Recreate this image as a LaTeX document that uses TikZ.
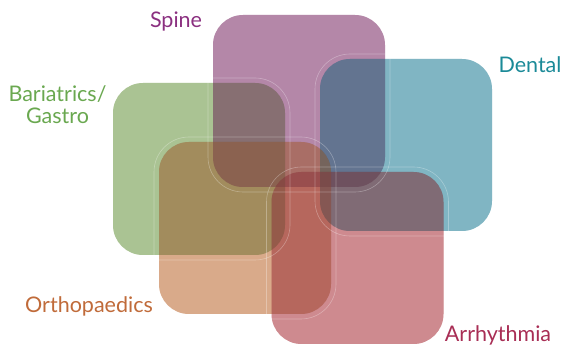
\documentclass[tikz,border=0pt]{standalone}
\usepackage{fontspec}
\setmainfont{Lato}
\definecolor{bariac}{RGB}{170,195,147}
\definecolor{spinec}{RGB}{180,135,168}
\definecolor{dentalc}{RGB}{128,181,195}
\definecolor{orthoc}{RGB}{217,170,138}
\definecolor{arrhyc}{RGB}{206,138,143}
\definecolor{bariat}{RGB}{106,168,80}
\definecolor{spinet}{RGB}{139,48,128}
\definecolor{dentalt}{RGB}{27,138,152}
\definecolor{orthot}{RGB}{192,107,58}
\definecolor{arrhyt}{RGB}{168,46,85}

\begin{document}
\begin{tikzpicture}[x=1pt,y=-1pt]
    \tikzstyle{square}=[rectangle,rounded corners=30pt,minimum size=172pt,
        inner sep=0pt,blend mode=multiply]
    \tikzstyle{tint}=[rectangle,rounded corners=30pt,minimum size=172pt,
        inner sep=0pt,fill opacity=0.25]
    \tikzstyle{halo}=[rectangle,rounded corners=35pt,minimum size=182pt,
        inner sep=0pt,draw=white,draw opacity=0.3,line width=0.6pt]
    \tikzstyle{areatext}=[font=\fontsize{21.5}{22}\selectfont,align=center,
        inner sep=0pt,anchor=base]
    \useasboundingbox (0,0) rectangle (566,347);
    % Squares
    \node[square,fill=bariac] (baria) at (199,169) {};
    \node[tint,fill=bariac] at (baria) {};
    \node[square,fill=spinec] (spine) at (299,101) {};
    \node[tint,fill=spinec] at (spine) {};
    \node[square,fill=dentalc] (dental) at (406,145) {};
    \node[tint,fill=dentalc] at (dental) {};
    \node[square,fill=orthoc] (ortho) at (245,228) {};
    \node[tint,fill=orthoc] at (ortho) {};
    \node[square,fill=arrhyc] (arrhy) at (357.5,258) {};
    \node[tint,fill=arrhyc] at (arrhy) {};
    % Halos
    \node[halo] (bariahalo) at (baria) {};
    \node[halo] (spinehalo) at (spine) {};
    \node[halo] (dentalhalo) at (dental) {};
    \node[halo] (orthohalo) at (ortho) {};
    \node[halo] (arrhyhalo) at (arrhy) {};
    % Labels
    \node[areatext,text=spinet] (spinelbl) at (176,28) {Spine};
    \node[areatext,text=dentalt] (dentallbl) at (530,73) {Dental};
    \node[areatext,text=bariat,anchor=center] (barialbl) at (57.5,105) {Bariatrics/\\Gastro};
    \node[areatext,text=orthot] (ortholbl) at (89,313) {Orthopaedics};
    \node[areatext,text=arrhyt] (arrhylbl) at (498,342) {Arrhythmia};
\end{tikzpicture}
\end{document}
